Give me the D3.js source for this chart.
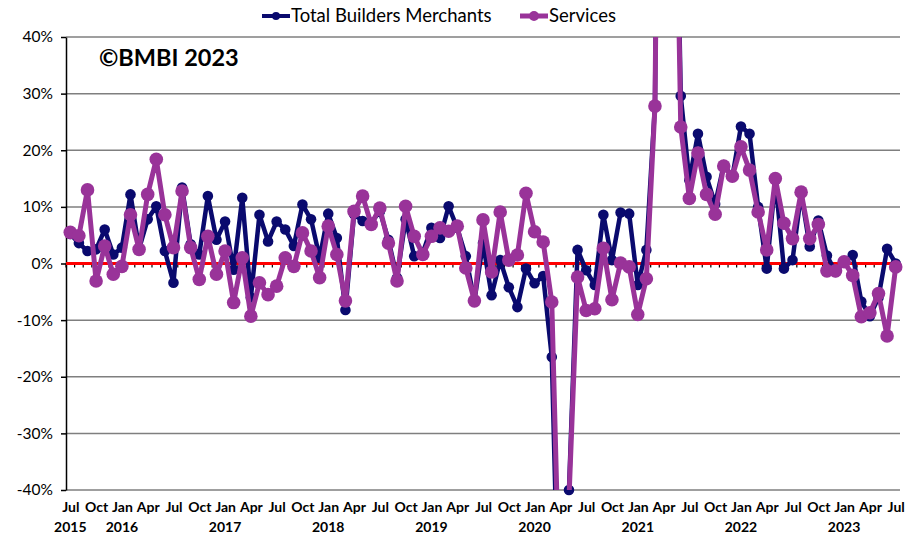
<!DOCTYPE html>
<html>
<head>
<meta charset="utf-8">
<script src="https://cdn.jsdelivr.net/npm/d3@7"></script>
<style>
  html, body { margin: 0; padding: 0; background: #fff; }
  svg { display: block; font-family: Lato, "Liberation Sans", sans-serif; }
</style>
</head>
<body>
<div id="chart"></div>
<script>
// ---- data ----
const startMonth = new Date(2015, 6, 1);   // Jul 2015
const endMonth = new Date(2023, 7, 1);     // exclusive -> last is Jul 2023
const categories = d3.timeMonths(startMonth, endMonth);

const seriesNames = ["Total Builders Merchants", "Services"];

const totalBuildersMerchants = [
  5.2, 3.6, 2.2, 2.5, 6.0, 1.6, 2.8, 12.2, 2.6, 7.8, 10.1, 2.2,
  -3.4, 13.4, 3.4, 1.6, 11.9, 4.2, 7.4, -1.1, 11.6, -6.0, 8.6, 3.9,
  7.4, 6.0, 3.1, 10.4, 7.8, 1.0, 8.8, 4.5, -8.2, 8.7, 7.5, 7.2,
  9.2, 4.2, -2.5, 7.8, 1.3, 1.9, 6.3, 4.5, 10.1, 6.3, 1.3, -6.6,
  3.6, -5.6, 0.6, -4.2, -7.7, -0.9, -3.5, -2.2, -16.5, -75.0, -40.0, 2.4,
  -1.2, -3.8, 8.6, 0.6, 9.0, 8.8, -3.8, 2.4, 28.0, 200.0, 110.0, 29.6,
  14.7, 22.9, 15.3, 10.5, 17.4, 15.3, 24.2, 22.9, 10.0, -0.9, 14.7, -0.9,
  0.6, 12.4, 3.0, 7.6, 1.4, -1.5, 0.3, 1.5, -6.7, -9.3, -6.0, 2.6,
  0.0
];

const services = [
  5.5, 4.9, 13.0, -3.1, 3.1, -1.9, -0.5, 8.6, 2.5, 12.2, 18.4, 8.6,
  2.8, 12.8, 2.8, -2.8, 4.8, -1.9, 2.2, -6.9, 1.0, -9.3, -3.4, -5.5,
  -4.0, 1.0, -0.5, 5.4, 2.2, -2.5, 6.6, 1.6, -6.6, 9.2, 11.9, 6.9,
  9.8, 3.6, -3.1, 10.1, 4.8, 1.6, 4.8, 6.3, 5.7, 6.6, -0.8, -6.6,
  7.7, -1.5, 9.1, 0.6, 1.5, 12.4, 5.6, 3.8, -6.8, -65.0, -41.5, -2.4,
  -8.3, -8.0, 2.7, -6.4, 0.1, -0.6, -9.0, -2.7, 27.8, 180.0, 110.0, 24.1,
  11.5, 19.5, 12.2, 8.7, 17.2, 15.4, 20.6, 16.5, 9.1, 2.4, 15.0, 7.1,
  4.4, 12.6, 4.4, 6.9, -1.3, -1.3, 0.3, -2.1, -9.4, -8.7, -5.3, -12.8,
  -0.6
];

const yTicks = [-40, -30, -20, -10, 0, 10, 20, 30, 40];
const monthAbbr = ["Jan","Feb","Mar","Apr","May","Jun","Jul","Aug","Sep","Oct","Nov","Dec"];
const watermark = "©BMBI 2023";

// ---- layout ----
const W = 916, H = 535;
const plot = { left: 66, right: 900, top: 37, bottom: 490 };
const colors = { total: "#0a0a6e", services: "#993399", zero: "#ff0000", grid: "#7f7f7f" };

const svg = d3.select("#chart").append("svg").attr("width", W).attr("height", H);

const idx = d3.range(categories.length);
const x = d3.scalePoint().domain(idx).range([plot.left, plot.right]).padding(0.5);
const step = x.step();
const y = d3.scaleLinear().domain([-40, 40]).range([plot.bottom, plot.top]);

// gridlines
svg.append("g").selectAll("line").data(yTicks).join("line")
  .attr("x1", plot.left).attr("x2", plot.right)
  .attr("y1", d => y(d)).attr("y2", d => y(d))
  .attr("stroke", colors.grid).attr("stroke-width", 1.5);

// y axis
const yAxis = svg.append("g").attr("transform", `translate(${plot.left},0)`)
  .call(d3.axisLeft(y).tickValues(yTicks).tickFormat(d => d + "%").tickSize(5).tickSizeOuter(0));
yAxis.select(".domain").attr("stroke", "#000").attr("stroke-width", 1.5);
yAxis.selectAll(".tick line").attr("stroke", "#000").attr("stroke-width", 1.5);
yAxis.selectAll(".tick text").attr("font-size", 15.5).attr("fill", "#000").attr("x", -13)
  .attr("font-family", "Lato, sans-serif");

// category tick marks on zero line
const boundaries = d3.range(categories.length + 1);
svg.append("g").selectAll("line").data(boundaries).join("line")
  .attr("x1", d => plot.left + d * step).attr("x2", d => plot.left + d * step)
  .attr("y1", y(0)).attr("y2", y(0) + 4)
  .attr("stroke", "#000").attr("stroke-width", 1.2);

// zero line
svg.append("line")
  .attr("x1", plot.left).attr("x2", plot.right)
  .attr("y1", y(0)).attr("y2", y(0))
  .attr("stroke", colors.zero).attr("stroke-width", 3);

// x axis labels (at bottom)
const labelIdx = idx.filter(i => categories[i].getMonth() % 3 === 0);
const xAxis = svg.append("g").attr("transform", `translate(0,${plot.bottom})`)
  .call(d3.axisBottom(x).tickValues(labelIdx)
    .tickFormat(i => monthAbbr[categories[i].getMonth()]).tickSize(0));
xAxis.select(".domain").remove();
xAxis.selectAll(".tick text").attr("font-size", 14).attr("font-weight", "bold")
  .attr("fill", "#000").attr("y", 12).attr("font-family", "Lato, sans-serif");

const yearIdx = idx.filter(i => i === 0 || categories[i].getMonth() === 0);
svg.append("g").selectAll("text").data(yearIdx).join("text")
  .attr("x", i => x(i)).attr("y", plot.bottom + 42)
  .attr("text-anchor", "middle").attr("font-size", 14).attr("font-weight", "bold")
  .text(i => categories[i].getFullYear());

// clip
svg.append("clipPath").attr("id", "plotclip").append("rect")
  .attr("x", plot.left).attr("y", plot.top)
  .attr("width", plot.right - plot.left).attr("height", plot.bottom - plot.top);

const line = d3.line().x((d, i) => x(i)).y(d => y(d));

const series = [
  { name: seriesNames[0], values: totalBuildersMerchants, color: colors.total, width: 4.5, r: 5.3 },
  { name: seriesNames[1], values: services, color: colors.services, width: 5, r: 6.8 }
];

series.forEach(s => {
  const g = svg.append("g");
  g.append("path").attr("d", line(s.values)).attr("fill", "none")
    .attr("stroke", s.color).attr("stroke-width", s.width)
    .attr("stroke-linejoin", "round").attr("clip-path", "url(#plotclip)");
  g.selectAll("circle").data(s.values.map((v, i) => ({ v, i })).filter(d => d.v >= -40 && d.v <= 40))
    .join("circle")
    .attr("cx", d => x(d.i)).attr("cy", d => y(d.v)).attr("r", s.r)
    .attr("fill", s.color);
});

// watermark
svg.append("text").attr("x", 99).attr("y", 66)
  .attr("font-size", 23.5).attr("font-weight", "bold").attr("fill", "#000")
  .text(watermark);

// legend
const legendItems = [
  { name: seriesNames[0], color: colors.total, x: 262, w: 4, r: 5 },
  { name: seriesNames[1], color: colors.services, x: 520, w: 5, r: 6 }
];
const lg = svg.append("g");
legendItems.forEach(it => {
  lg.append("line").attr("x1", it.x).attr("x2", it.x + 28).attr("y1", 16).attr("y2", 16)
    .attr("stroke", it.color).attr("stroke-width", it.w);
  lg.append("circle").attr("cx", it.x + 14).attr("cy", 16).attr("r", it.r - 1).attr("fill", it.color);
  lg.append("text").attr("x", it.x + 29).attr("y", 22).attr("font-size", 18.5).attr("fill", "#000")
    .text(it.name);
});
</script>
</body>
</html>
